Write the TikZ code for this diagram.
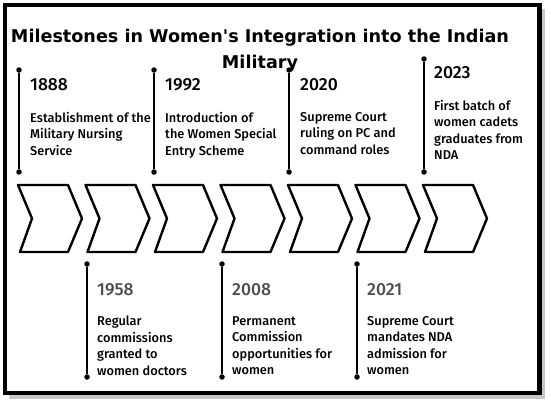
\documentclass[tikz,border=0pt]{standalone}
\usepackage{fontspec}
\setmainfont{Fira Sans}
\newfontfamily\medfont{Fira Sans Medium}
\newfontfamily\titlefont{DejaVu Sans}
\usepackage{xcolor}
\usetikzlibrary{positioning,calc}

\definecolor{yeargray}{HTML}{4D4D4D}

\tikzset{
    chevron/.style={draw=black, line width=2.4pt, line join=round, fill=white},
    stem/.style={line width=2pt},
    dot/.style={circle, fill=black, inner sep=0pt, minimum size=5.5pt},
    year/.style={anchor=west, inner sep=0pt, font=\medfont\fontsize{17.5}{19}\selectfont},
    desc/.style={anchor=north west, inner sep=0pt, align=left, font=\medfont\fontsize{12.8}{16.5}\selectfont},
}

\begin{document}
\begin{tikzpicture}[x=1pt, y=-1pt]
    \useasboundingbox (0,0) rectangle (551,404);

    % Frame with shadow
    \draw[gray!45, line width=3.5pt] (543,9) -- (543,397) -- (9,397);
    \draw[line width=4.5pt] (5,5) rectangle (539.5,393);

    % Title
    \node[align=center, font=\titlefont\fontsize{17.6}{26}\selectfont\bfseries] (title) at (260,51)
        {Milestones in Women's Integration into the Indian\\Military};

    % Chevrons
    \foreach \i [evaluate=\i as \x using 18+67.5*\i] in {0,...,6} {
        \draw[chevron] (\x,185) -- ++(50,0) -- ++(14,33.5) -- ++(-14,33.5)
            -- ++(-48,0) -- ++(12,-33.5) -- cycle;
    }

    % Upper markers
    \node[dot] (t1888) at (19,70) {};
    \node[dot] (b1888) at (19,172) {};
    \node[dot] (t1992) at (154,70) {};
    \node[dot] (b1992) at (154,172) {};
    \node[dot] (t2020) at (289,70) {};
    \node[dot] (b2020) at (289,172) {};
    \node[dot] (t2023) at (424,59) {};
    \node[dot] (b2023) at (424,172) {};
    \draw[stem] (t1888) -- (b1888);
    \draw[stem] (t1992) -- (b1992);
    \draw[stem] (t2020) -- (b2020);
    \draw[stem] (t2023) -- (b2023);

    % Lower markers
    \node[dot] (t1958) at (87,264) {};
    \node[dot] (b1958) at (87,377) {};
    \node[dot] (t2008) at (222,264) {};
    \node[dot] (b2008) at (222,377) {};
    \node[dot] (t2021) at (357,264) {};
    \node[dot] (b2021) at (357,377) {};
    \draw[stem] (t1958) -- (b1958);
    \draw[stem] (t2008) -- (b2008);
    \draw[stem] (t2021) -- (b2021);

    % Upper labels
    \node[year] (y1888) at (30,85) {1888};
    \node[desc] (d1888) at (30,112) {Establishment of the\\Military Nursing\\Service};
    \node[year] (y1992) at (165,85) {1992};
    \node[desc] (d1992) at (165,112) {Introduction of\\the Women Special\\Entry Scheme};
    \node[year] (y2020) at (300,85) {2020};
    \node[desc] (d2020) at (300,112) {Supreme Court\\ruling on PC and\\command roles};
    \node[year] (y2023) at (434,73) {2023};
    \node[desc] (d2023) at (434,100) {First batch of\\women cadets\\graduates from\\NDA};

    % Lower labels
    \node[year, text=yeargray] (y1958) at (97,290) {1958};
    \node[desc] (d1958) at (97,316) {Regular\\commissions\\granted to\\women doctors};
    \node[year, text=yeargray] (y2008) at (232,290) {2008};
    \node[desc] (d2008) at (232,316) {Permanent\\Commission\\opportunities for\\women};
    \node[year, text=yeargray] (y2021) at (367,290) {2021};
    \node[desc] (d2021) at (367,316) {Supreme Court\\mandates NDA\\admission for\\women};
\end{tikzpicture}
\end{document}
